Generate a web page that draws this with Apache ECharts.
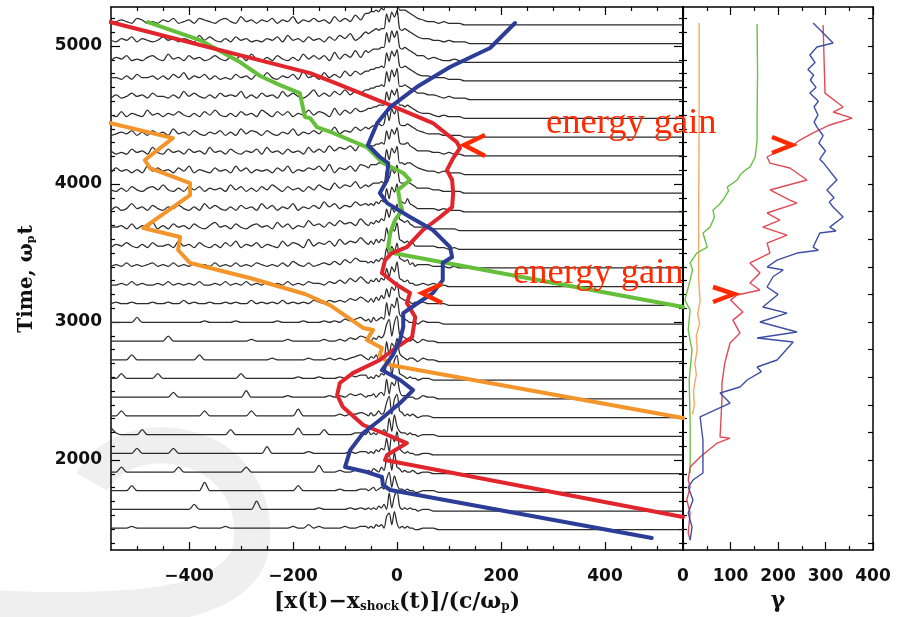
<!DOCTYPE html>
<html>
<head>
<meta charset="utf-8">
<script src="https://cdn.jsdelivr.net/npm/echarts@6/dist/echarts.min.js"></script>
<style>
  html, body { margin: 0; padding: 0; background: #fff; }
  #chart { width: 910px; height: 617px; }
</style>
</head>
<body>
<div id="chart"></div>
<script>
// Snapshot times (ωp t) of the stacked density profiles, bottom to top
const profileTimes = [1495, 1630, 1766, 1901, 2037, 2172, 2308, 2443, 2579, 2714,
  2850, 2985, 3121, 3256, 3392, 3527, 3663, 3798, 3934, 4069,
  4205, 4340, 4476, 4611, 4747, 4882, 5018, 5153];

// Density profile heights, one character per 10 c/ωp starting at x = -550
// ('0'-'9' then 'a'-'z' for 10..35); beyond the last character the profile is flat
const profileShapes = [
  ['1111211111','1111112111','1121111111','1111121131','2111121121','1224a41210','1110000000','0'],
  ['1111111111','1111114111','1111111161','1111111111','2111112121','1225b41211','1100000000','0'],
  ['1111411111','1111111161','1111111111','1111114111','1111211121','2234a52121','1110000000','0'],
  ['1141111111','1114111111','1111114111','1111111111','5111211222','2236b52211','1100000000','0'],
  ['1111141111','1141111111','1111111111','5111111121','1111112121','2235c62121','1100000000','0'],
  ['5211114111','1111111111','1114111111','1111115111','1411111222','2236b52211','1110000000','0'],
  ['1141111111','1111111141','1111111411','1111115111','1111212231','2237c63221','1100000000','0'],
  ['1111111111','1141111111','1111115111','1111211111','1121213232','2236b63211','2110000000','0'],
  ['1141111114','1111111111','1111141111','1111112111','2111213232','3237c74221','1100000000','0'],
  ['1111411111','1111111411','1111111111','1211111121','1121212342','3237b74321','2110000000','0'],
  ['1111111111','1411111111','1111111211','1111211111','1211213243','3247c74321','2110000000','0'],
  ['1111141111','1111111121','1111211111','1121111211','1212132343','3248d85321','2111000000','0'],
  ['1211211121','1211312112','1121211312','1213121213','2132324354','4259e95331','2111100000','0'],
  ['1121312112','1312121311','2131213121','3121312132','2132425364','5369fa6342','2121100000','0'],
  ['1213121231','2131213121','3121312132','1213142131','2324253646','436agb6342','2211101000','0'],
  ['1324213142','2315231421','3142513241','3215243162','4352635475','537bgc7453','2221101000','0'],
  ['2231413251','3142314213','5231421342','3152413263','4253645374','646aeb7452','2211111000','0'],
  ['1312523142','1324213152','4213142315','2413251324','2635243647','657bhc8563','2221211100','0'],
  ['2131421342','5213142413','2315241314','2531423142','5326354736','547agd7463','3322111100','0'],
  ['1423131524','2314251321','4231524132','3142513243','5261435264','568bfc8574','3221211100','0'],
  ['3121423152','1423142315','2314213241','5231423152','4263546375','645agb7464','3322121100','0'],
  ['1232413142','3152314213','2413152431','4213251324','2536243647','657cjd8463','3222111100','0'],
  ['2141321523','1324213142','5213142315','3142413252','4316253646','576bhc9574','3321211100','0'],
  ['1312423142','2131524213','1423251314','2315242136','2425363547','657cid8564','4332121110','0'],
  ['2213142231','3142513241','3121423142','5213241623','1524263646','575bgc9575','3322211100','0'],
  ['1324121342','1523142312','4213241521','3142131524','2416253735','465bhc7463','4232112100','0'],
  ['2132413212','4231321524','2131423121','3241523142','3142536243','547afb8574','3322121110','0'],
  ['1232143121','3241231432','1342152313','2413251324','2315242635','436bhd9463','3221211100','0']
];

// Finer detail across the shock ramp: one character per 5 c/ωp from x = -60 to x = 40
const shockShapes = [
  '212132318a3b412121100', '121213241b29c31212110', '212312328c3a522121100', '121321429b2d431211210',
  '21213243a2c8e42121100', '131213242b3d632212110', '213124239d2be43121210', '12231342c3a8d52211100',
  '31213243ad3cf43212110', '21324132c4b9e53212210', '32132435be4cg54321210', '23142343d5cag64321110',
  '32425364a5b9e54332121', '32435354b6c9f54342211', '43435465c7daf65452312', '43536465d7ebg65453422',
  '43546576d8ebg76564322', '54546576e8fch76585432', '54566676e9fch76676543', '54666777f9gdh77677654',
  '55667787fagdh87786543', '65677878gahei87787654', '56677888gbhei88787654', '66778898hbiej88987654',
  '66778898hcifj98987654', '76788899icjfj98987654', '76789899idjgk98987654', '778898a9jdkgk99987654'
];

// Particle trajectories: [x - x_shock (c/ωp), time (ωp t)]
const orangePath = [[-552,4442],[-431,4333],[-485,4174],[-475,4116],[-398,4007],[-398,3920],
  [-488,3681],[-417,3616],[-421,3522],[-398,3428],[-283,3319],[-177,3203],[-129,3123],
  [-65,2957],[-46,2942],[-58,2870],[-29,2812],[-33,2761],[-13,2688],[550,2304]];
const greenPath = [[-479,5174],[-379,5043],[-302,4884],[-263,4783],[-225,4717],[-187,4659],
  [-177,4486],[-167,4478],[-154,4413],[-123,4370],[-58,4268],[-27,4152],[12,4080],[25,4029],
  [2,3957],[6,3862],[10,3812],[-4,3739],[-13,3645],[-17,3543],[-8,3500],[550,3109]];
const redPath = [[-552,5174],[-167,4804],[-123,4739],[-13,4572],[69,4442],[115,4304],[121,4261],
  [108,4188],[96,4101],[106,4029],[108,3935],[106,3833],[83,3761],[50,3667],[19,3543],
  [-10,3500],[-23,3449],[-29,3355],[0,3268],[25,3210],[19,3138],[35,3036],[29,2891],[0,2819],
  [-33,2725],[-85,2630],[-110,2558],[-115,2471],[-104,2384],[-65,2254],[-27,2196],[19,2123],
  [-19,2036],[-23,2000],[550,1587]];
const bluePath = [[227,5167],[179,4986],[102,4848],[38,4703],[-13,4558],[-38,4442],[-56,4283],
  [-33,4196],[-17,4152],[-19,4029],[-33,3935],[-19,3862],[25,3761],[69,3667],[102,3543],
  [106,3471],[88,3428],[88,3304],[69,3210],[40,3138],[12,3065],[12,2964],[6,2870],[-8,2761],
  [-29,2652],[6,2580],[31,2507],[6,2413],[-33,2290],[-65,2196],[-90,2072],[-100,1949],
  [-58,1913],[-29,1877],[-27,1819],[-13,1783],[490,1435]];

// Lorentz factor histories: [γ, time (ωp t)]
const orangeGamma = [[34,5167],[34,4500],[33,3800],[33,3304],[36,3150],[31,3060],[35,2990],
  [28,2900],[30,2800],[25,2700],[28,2620],[22,2500],[24,2400],[20,2330]];
const greenGamma = [[156,5159],[157,4800],[156,4500],[156,4319],[152,4196],[141,4123],[131,4101],
  [120,4065],[114,4029],[93,3978],[96,3950],[84,3884],[76,3850],[63,3812],[66,3760],[57,3688],
  [42,3645],[51,3543],[29,3500],[15,3428],[20,3380],[15,3304],[4,3159],[15,3087],[11,2942],
  [19,2797],[13,2580],[15,2290],[15,1906]];
const redGamma = [[295,5152],[297,4899],[299,4659],[337,4558],[316,4522],[356,4478],[309,4428],
  [274,4370],[246,4319],[232,4283],[204,4246],[177,4196],[183,4152],[225,4116],[261,4029],
  [183,3957],[225,3884],[240,3862],[177,3790],[204,3739],[168,3688],[219,3630],[177,3572],
  [183,3500],[141,3428],[162,3355],[141,3283],[162,3232],[114,3196],[100,3159],[126,3072],
  [105,3014],[120,2920],[99,2848],[88,2703],[82,2558],[82,2435],[78,2167],[99,2159],[72,2123],
  [36,2022],[15,1949],[11,1855],[15,1804],[8,1710],[15,1616],[11,1471],[15,1420]];
const blueGamma = [[274,5167],[316,5022],[282,4993],[267,4935],[278,4880],[263,4830],[275,4790],
  [268,4754],[280,4700],[267,4659],[285,4600],[276,4560],[284,4500],[276,4450],[282,4413],
  [295,4350],[286,4297],[300,4240],[288,4180],[296,4152],[324,4029],[303,3957],[318,3900],
  [308,3870],[316,3833],[337,3761],[309,3688],[322,3660],[288,3645],[274,3543],[285,3520],
  [240,3500],[198,3449],[177,3399],[211,3377],[190,3330],[177,3254],[200,3200],[168,3109],
  [219,3065],[162,3000],[240,2928],[156,2884],[232,2855],[198,2725],[156,2674],[165,2640],
  [135,2580],[120,2529],[78,2486],[99,2413],[36,2312],[42,2145],[42,1906],[21,1855],[11,1804],
  [21,1710],[11,1616],[19,1514],[15,1420]];

// Tick labels
const xTickLabels = [-400, -200, 0, 200, 400];
const gammaTickLabels = [0, 100, 200, 300, 400];
const timeTickLabels = [2000, 3000, 4000, 5000];

const X_MIN = -550, X_MAX = 550, T_MIN = 1348, T_MAX = 5283;
const HEIGHT_UNIT = 12;            // time units per profile height step
const RAMP_FROM = -60, RAMP_TO = 40; // extent of the fine-resolution strip

function range(a, b, step) { const r = []; for (let v = a; v <= b + 1e-9; v += step) r.push(v); return r; }
function heightOf(ch) { const c = ch.charCodeAt(0); return c <= 57 ? c - 48 : c - 87; }

const xMinor = range(-500, 500, 50).filter(v => v % 200 !== 0);
const gMinor = [50, 150, 250, 350];
const tMinor = range(1400, 5200, 100).filter(v => v % 1000 !== 0);
const tRight = range(1400, 5200, 200);

const C = { orange: '#f3952b', green: '#66bf3a', red: '#e1252d', blue: '#2c3d98' };
const labelFont = { fontFamily: 'DejaVu Sans', fontWeight: 'bold', fontSize: 17, color: '#111' };
const tickLine = { color: '#000', width: 1.2 };
const plain = v => String(v).replace('-', '\u2212');

function xAx(grid, min, max, pos, ticks, len, labels) {
  return {
    type: 'value', gridIndex: grid, min: min, max: max, position: pos,
    axisLine: { show: len > 5, onZero: false, lineStyle: { color: '#000', width: 1.5 } },
    axisTick: { show: true, inside: true, length: len, customValues: ticks, lineStyle: tickLine },
    axisLabel: labels ? Object.assign({ show: true, customValues: labels, margin: 18, formatter: plain }, labelFont) : { show: false },
    splitLine: { show: false }
  };
}
function yAx(grid, pos, ticks, len, labels, lineW) {
  return {
    type: 'value', gridIndex: grid, min: T_MIN, max: T_MAX, position: pos,
    axisLine: { show: lineW > 0, onZero: false, lineStyle: { color: '#000', width: lineW || 1 } },
    axisTick: { show: true, inside: true, length: len, customValues: ticks, lineStyle: tickLine },
    axisLabel: labels ? Object.assign({ show: true, customValues: labels, margin: 9, formatter: plain }, labelFont) : { show: false },
    splitLine: { show: false }
  };
}

const series = [];
profileShapes.forEach((chunks, i) => {
  const coarse = chunks.join('');
  const fine = shockShapes[i];
  const t0 = profileTimes[i];
  const pts = [];
  for (let k = 0; k < coarse.length; k++) {
    const x = X_MIN + 10 * k;
    if (x < RAMP_FROM) pts.push([x, t0 + heightOf(coarse[k]) * HEIGHT_UNIT]);
  }
  for (let k = 0; k < fine.length; k++) pts.push([RAMP_FROM + 5 * k, t0 + heightOf(fine[k]) * HEIGHT_UNIT]);
  for (let k = 0; k < coarse.length; k++) {
    const x = X_MIN + 10 * k;
    if (x > RAMP_TO) pts.push([x, t0 + heightOf(coarse[k]) * HEIGHT_UNIT]);
  }
  pts.push([X_MAX, t0]);
  series.push({
    type: 'line', xAxisIndex: 0, yAxisIndex: 0, data: pts, symbol: 'none', silent: true, smooth: 0.3,
    lineStyle: { color: '#2b2b2b', width: 1.25 }, z: 2
  });
});
[[orangePath, C.orange], [greenPath, C.green], [redPath, C.red], [bluePath, C.blue]].forEach(([d, c]) => {
  series.push({ type: 'line', xAxisIndex: 0, yAxisIndex: 0, data: d, symbol: 'none', silent: true,
    lineStyle: { color: c, width: 4, cap: 'round', join: 'round' }, z: 5 });
});
[[orangeGamma, '#f4a862'], [greenGamma, '#6cbf45'], [redGamma, '#e14a55'], [blueGamma, '#3e4fa3']].forEach(([d, c]) => {
  series.push({ type: 'line', xAxisIndex: 4, yAxisIndex: 4, data: d, symbol: 'none', silent: true,
    lineStyle: { color: c, width: 1.4 }, z: 5 });
});

const titleFont = '"DejaVu Serif", "Liberation Serif", serif';
const textFont = '"Liberation Serif", "DejaVu Serif", serif';
const annotRed = '#ff2a00';
function chevron(pts) {
  return { type: 'polyline', z: 50, shape: { points: pts },
    style: { stroke: annotRed, lineWidth: 4.5, fill: null, lineJoin: 'miter' } };
}
function emblem(x1, y1, c1x, c1y, c2x, c2y, x2, y2) {
  return { type: 'bezierCurve', z: -5, silent: true,
    shape: { x1: x1, y1: y1, cpx1: c1x, cpy1: c1y, cpx2: c2x, cpy2: c2y, x2: x2, y2: y2 },
    style: { stroke: '#efefef', lineWidth: 36, fill: null } };
}

const option = {
  animation: false,
  backgroundColor: '#fff',
  grid: [
    { left: 111, top: 7, width: 572, height: 543 },
    { left: 683, top: 7, width: 190, height: 543 }
  ],
  xAxis: [
    xAx(0, X_MIN, X_MAX, 'bottom', xTickLabels, 8, xTickLabels),
    xAx(0, X_MIN, X_MAX, 'bottom', xMinor, 4, null),
    xAx(0, X_MIN, X_MAX, 'top', xTickLabels, 8, null),
    xAx(0, X_MIN, X_MAX, 'top', xMinor, 4, null),
    xAx(1, 0, 400, 'bottom', gammaTickLabels, 8, gammaTickLabels),
    xAx(1, 0, 400, 'bottom', gMinor, 4, null),
    xAx(1, 0, 400, 'top', gammaTickLabels, 8, null),
    xAx(1, 0, 400, 'top', gMinor, 4, null)
  ],
  yAxis: [
    yAx(0, 'left', timeTickLabels, 9, timeTickLabels, 1.5),
    yAx(0, 'left', tMinor, 4, null, 0),
    yAx(0, 'right', timeTickLabels, 9, null, 2),
    yAx(0, 'right', tMinor, 4, null, 0),
    yAx(1, 'left', tMinor, 4, null, 2),
    yAx(1, 'right', tRight, 5, null, 1.5)
  ],
  series: series,
  graphic: [
    // faint background emblem
    emblem(92, 482, 128, 418, 258, 438, 252, 540),
    emblem(252, 540, 247, 612, 120, 614, -10, 608),
    // axis titles
    { type: 'text', z: 20, x: 27, y: 279, rotation: Math.PI / 2,
      style: { text: '{a|Time, \u03c9}{s|p}{a|t}', align: 'center', verticalAlign: 'middle', fill: '#111',
        rich: { a: { fontFamily: titleFont, fontWeight: 'bold', fontSize: 20 },
                s: { fontFamily: titleFont, fontWeight: 'bold', fontSize: 11, verticalAlign: 'bottom', padding: [0, 1, 0, 0] } } } },
    { type: 'text', z: 20, x: 397, y: 602,
      style: { text: '{a|[x(t)\u2212x}{s|shock}{a|(t)]/(c/\u03c9}{s|p}{a|)}', align: 'center', verticalAlign: 'middle', fill: '#111',
        rich: { a: { fontFamily: titleFont, fontWeight: 'bold', fontSize: 22 },
                s: { fontFamily: titleFont, fontWeight: 'bold', fontSize: 12, verticalAlign: 'bottom' } } } },
    { type: 'text', z: 20, x: 778, y: 601,
      style: { text: '\u03b3', align: 'center', verticalAlign: 'middle', fill: '#111',
        font: 'bold 22px ' + titleFont } },
    // energy gain annotations
    { type: 'text', z: 50, x: 546, y: 123,
      style: { text: 'energy gain', fill: annotRed, font: '36.5px ' + textFont, align: 'left', verticalAlign: 'middle' } },
    { type: 'text', z: 50, x: 513, y: 273,
      style: { text: 'energy gain', fill: annotRed, font: '36.5px ' + textFont, align: 'left', verticalAlign: 'middle' } },
    chevron([[485, 135], [464, 145], [485, 156]]),
    chevron([[442, 284], [422, 293], [442, 303]]),
    chevron([[772, 137], [792, 145], [772, 153]]),
    chevron([[713, 287], [734, 294], [713, 302]])
  ]
};

const chart = echarts.init(document.getElementById('chart'), null, { renderer: 'canvas' });
chart.setOption(option);
</script>
</body>
</html>
